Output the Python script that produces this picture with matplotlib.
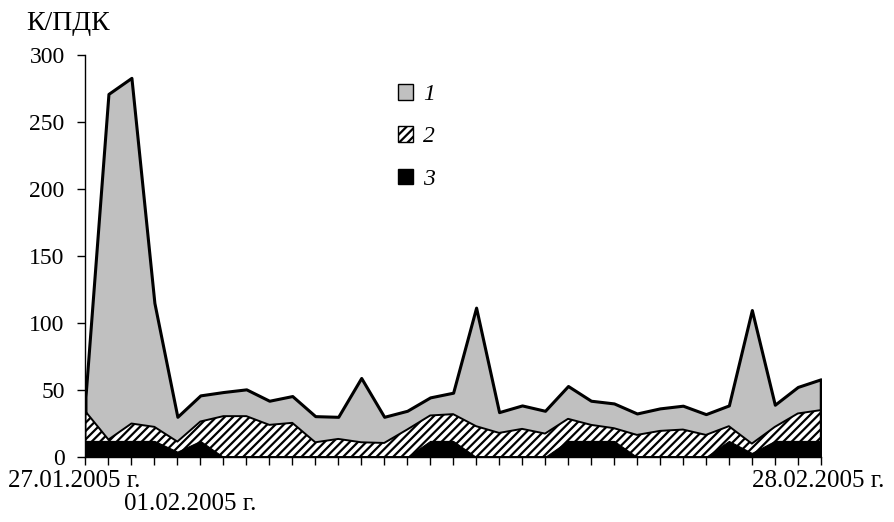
import numpy as np
import matplotlib
matplotlib.use("Agg")
import matplotlib.pyplot as plt
from matplotlib.patches import Patch

plt.rcParams['font.family'] = ['Liberation Serif', 'DejaVu Serif']
plt.rcParams['hatch.linewidth'] = 1.6

# дни с 27.01.2005 по 28.02.2005
days = np.arange(33)
date_labels = ['27.01.2005 г.', '01.02.2005 г.', '28.02.2005 г.']
date_pos = [0, 5, 32]

# K/ПДК по рядам
s1 = [45, 271, 283, 115, 30, 46, 48.5, 50.5, 42, 45.5, 30.5, 30, 59, 30, 34.5,
      44.5, 48, 111.5, 33.5, 38.5, 34.5, 53, 42, 40, 32.5, 36.3, 38.3, 32, 38.5,
      109.7, 39, 52.3, 58]
s2 = [34, 13, 25, 22.5, 11.5, 26.5, 30.5, 30.5, 24, 25.5, 11, 13.5, 11, 10.5,
      20.5, 31, 32, 23, 18, 21, 17.5, 28.5, 24, 21.5, 16.5, 19.5, 20.5, 16.5,
      23, 10, 22.5, 32.5, 35]
s3 = [12, 12, 12, 12, 4, 12, 0, 0, 0, 0, 0, 0, 0, 0, 0, 12, 12, 0, 0, 0, 0,
      12, 12, 12, 0, 0, 0, 0, 12, 3, 12, 12, 12]
labels = ['1', '2', '3']

fig = plt.figure(figsize=(8.94, 5.22), dpi=100)
ax = fig.add_axes([0.0956, 0.1245, 0.8225, 0.770])

ax.fill_between(days, 0, s1, facecolor='#c0c0c0', edgecolor='black', lw=2.2, zorder=1)
ax.fill_between(days, 0, s2, facecolor='white', edgecolor='black', hatch='////',
                lw=1.4, zorder=2)
ax.fill_between(days, 0, s3, facecolor='black', edgecolor='black', lw=0.8, zorder=3)

ax.set_xlim(0, 32)
ax.set_ylim(0, 300)
ax.set_yticks(range(0, 301, 50))
ax.set_xticks(days)
ax.set_xticklabels([])
ax.tick_params(axis='y', labelsize=17, direction='out', length=6, width=1, pad=9)
ax.tick_params(axis='x', direction='out', length=6, width=1)

# подписи дат (вторая ниже, как в оригинале)
offsets = [(-8, -17), (-7, -33.5), (-2, -17)]
for p, lab, (dx, dy) in zip(date_pos, date_labels, offsets):
    ax.annotate(lab, xy=(p, 0), xycoords='data', xytext=(dx, dy),
                textcoords='offset points', ha='center', va='center',
                fontsize=18, annotation_clip=False)

for side in ['top', 'right']:
    ax.spines[side].set_visible(False)
for side in ['left', 'bottom']:
    ax.spines[side].set_linewidth(1)
ax.spines['bottom'].set_zorder(5)

fig.text(0.029, 0.955, 'К/ПДК', fontsize=20, va='center', ha='left')

handles = [Patch(facecolor='#c0c0c0', edgecolor='black', lw=1),
           Patch(facecolor='white', edgecolor='black', hatch='////', lw=1),
           Patch(facecolor='black', edgecolor='black', lw=1)]
leg = fig.legend(handles, labels, loc='upper left', bbox_to_anchor=(0.432, 0.862),
                 frameon=False, borderpad=0, handlelength=0.65, handleheight=0.65,
                 handletextpad=0.4, labelspacing=0.9,
                 prop={'family': 'Liberation Serif', 'style': 'italic', 'size': 17})

fig.savefig('out.png', dpi=100)
